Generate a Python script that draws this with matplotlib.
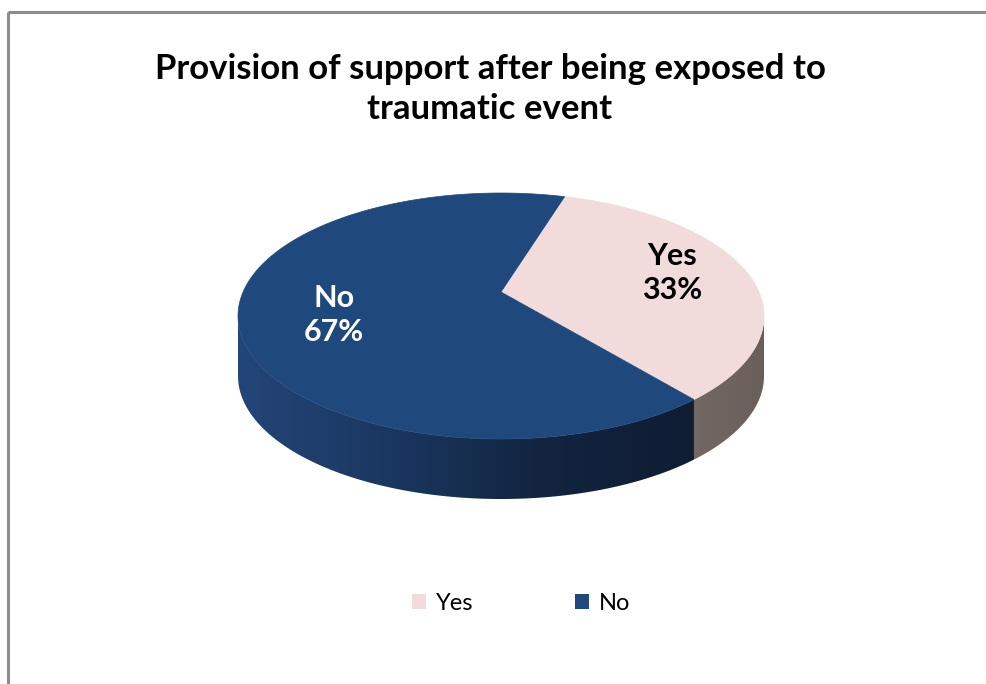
import numpy as np
import matplotlib
matplotlib.use("Agg")
import matplotlib.pyplot as plt
from matplotlib.patches import Polygon, Patch, Rectangle
from matplotlib.colors import LinearSegmentedColormap

# ---- data ----
categories = ["Yes", "No"]
values = [33, 67]
pct_labels = ["33%", "67%"]
title = "Provision of support after being exposed to\ntraumatic event"

top_colors = ["#f2dcdb", "#1f497d"]
legend_colors = ["#f2dcdb", "#1f497d"]

plt.rcParams['font.family'] = ['Lato', 'DejaVu Sans']

W, H = 986, 684
fig = plt.figure(figsize=(W / 100, H / 100), dpi=100)
ax = fig.add_axes([0, 0, 1, 1])
ax.set_xlim(0, W)
ax.set_ylim(H, 0)
ax.axis("off")

# chart frame
ax.add_patch(Rectangle((8, 12), 1100, 800, fill=False, edgecolor="#8c8c8c", lw=2.2))

# ---- 3D pie geometry ----
cx, cy = 501, 316        # top ellipse centre
apex_y = 292             # apparent centre (perspective)
rx, ry = 263, 123
depth = 60
start = 14.0             # degrees clockwise from 12 o'clock

def pt(t_deg):
    t = np.radians(t_deg)
    return cx + rx * np.sin(t), cy - ry * np.cos(t)

fracs = np.array(values, dtype=float) / np.sum(values)
angles = [start]
for f in fracs:
    angles.append(angles[-1] + 360 * f)

side_cmaps = [
    LinearSegmentedColormap.from_list("yes_side", ["#746864", "#6a5e5a"]),
    LinearSegmentedColormap.from_list("no_side", ["#234679", "#1a3760", "#12243f", "#0f1d33"]),
]

# sides first (only front half visible)
for i in range(len(values)):
    a0, a1 = angles[i], angles[i + 1]
    lo, hi = max(a0, 90), min(a1, 270)
    if lo >= hi:
        continue
    ts = np.linspace(lo, hi, 300)
    top = [pt(t) for t in ts]
    bot = [(x, y + depth) for x, y in top[::-1]]
    poly = Polygon(top + bot, closed=True, facecolor="none", edgecolor="none")
    ax.add_patch(poly)
    xs = [p[0] for p in top]
    x0, x1 = min(xs), max(xs)
    grad = np.linspace(0, 1, 256).reshape(1, -1)
    im = ax.imshow(grad, cmap=side_cmaps[i], aspect="auto",
                   extent=(x0 - 2, x1 + 2, max(p[1] for p in top) + depth + 2, min(p[1] for p in top) - 2),
                   zorder=1)
    im.set_clip_path(poly)

# top faces
for i in range(len(values)):
    a0, a1 = angles[i], angles[i + 1]
    ts = np.linspace(a0, a1, 300)
    arc = [pt(t) for t in ts]
    poly = [(cx, apex_y)] + arc
    ax.add_patch(Polygon(poly, closed=True, facecolor=top_colors[i],
                         edgecolor=top_colors[i], lw=0.5, zorder=2))

ax.set_xlim(0, W)
ax.set_ylim(H, 0)

# data labels
ax.text(672, 273, f"{categories[0]}\n{pct_labels[0]}", ha="center", va="center",
        fontsize=22, fontweight="bold", color="black", linespacing=1.3, zorder=5)
ax.text(334, 315, f"{categories[1]}\n{pct_labels[1]}", ha="center", va="center",
        fontsize=22, fontweight="bold", color="white", linespacing=1.3, zorder=5)

# title
ax.text(490, 89, title, ha="center", va="center", fontsize=25, fontweight="bold",
        color="black", linespacing=1.3, zorder=5)

# legend
handles = [Patch(facecolor=legend_colors[i], edgecolor="none") for i in range(len(categories))]
leg = ax.legend(handles, categories, loc="center", bbox_to_anchor=(521 / W, 1 - 603 / H),
                ncol=2, frameon=False, fontsize=17, handlelength=0.6, handleheight=0.6,
                handletextpad=0.4, columnspacing=4.3)

fig.savefig("out.png", dpi=100)
